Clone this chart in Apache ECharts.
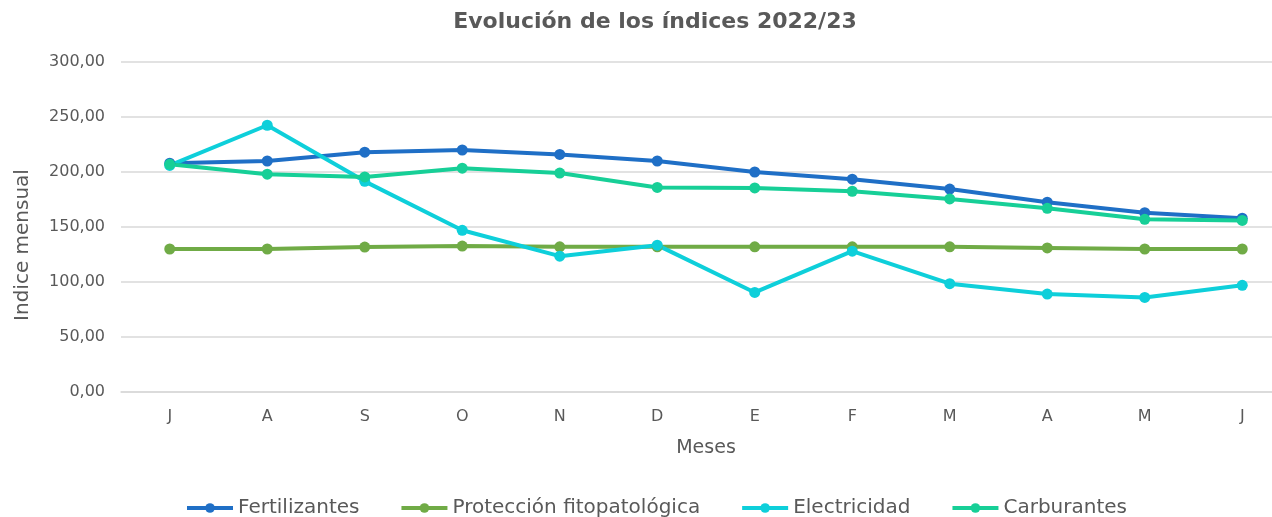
<!DOCTYPE html>
<html>
<head>
<meta charset="utf-8">
<script src="https://cdn.jsdelivr.net/npm/echarts@6/dist/echarts.min.js"></script>
<style>html,body{margin:0;padding:0;background:#fff;overflow:hidden}#c{width:1291px;height:517px}</style>
</head>
<body>
<div id="c"></div>
<script>
const months = ['J','A','S','O','N','D','E','F','M','A','M','J'];
const fertilizantes = [208, 210, 218, 220, 216, 210, 200, 193.5, 184.5, 172.5, 163, 158];
const proteccion = [130, 130, 131.8, 132.7, 132, 132, 132, 132, 132, 131, 130, 130];
const electricidad = [206, 242.5, 191.5, 147, 123.5, 133.5, 90.5, 128, 98.5, 89, 86, 97];
const carburantes = [207, 198, 195.5, 203.5, 199, 186, 185.5, 182.5, 175.5, 167, 157, 156];
const yTicks = [0, 50, 100, 150, 200, 250, 300];

const font = '"DejaVu Sans", sans-serif';
const txt = '#595959';
function mk(name, data, color) {
  return {
    name, type: 'line', data, symbol: 'circle', symbolSize: 11,
    lineStyle: { width: 4, color }, itemStyle: { color }, emphasis: { disabled: true }
  };
}
const chart = echarts.init(document.getElementById('c'));
chart.setOption({
  animation: false,
  title: {
    text: 'Evolución de los índices 2022/23', left: 650, top: 6, textAlign: 'center',
    textStyle: { fontFamily: font, fontSize: 22, fontWeight: 'bold', color: txt }
  },
  legend: {
    top: 493, left: 180, itemGap: 40, itemWidth: 46, itemHeight: 12,
    lineStyle: { width: 4 },
    textStyle: { fontFamily: font, fontSize: 20, color: txt },
    data: ['Fertilizantes', 'Protección fitopatológica', 'Electricidad', 'Carburantes']
  },
  grid: { left: 121, right: 0, top: 62, height: 330 },
  xAxis: {
    type: 'category', data: months, boundaryGap: true,
    name: 'Meses', nameLocation: 'middle', nameGap: 47,
    nameTextStyle: { fontFamily: font, fontSize: 19, color: txt },
    axisLine: { lineStyle: { color: '#d9d9d9', width: 1.5 } }, axisTick: { show: false },
    axisLabel: { fontFamily: font, fontSize: 16, color: txt, margin: 17 }
  },
  yAxis: {
    type: 'value', min: yTicks[0], max: yTicks[yTicks.length - 1], interval: 50,
    name: 'Indice mensual', nameLocation: 'middle', nameGap: 88, nameRotate: 90,
    nameTextStyle: { fontFamily: font, fontSize: 20, color: txt, padding: [0, 0, 0, -36] },
    axisLine: { show: false }, axisTick: { show: false },
    splitLine: { lineStyle: { color: '#d9d9d9', width: 1.5 } },
    axisLabel: { fontFamily: font, fontSize: 16, color: txt, margin: 16,
      formatter: v => v.toFixed(2).replace('.', ',') }
  },
  series: [
    mk('Fertilizantes', fertilizantes, '#1F6FC6'),
    mk('Protección fitopatológica', proteccion, '#70AB46'),
    mk('Electricidad', electricidad, '#0ECFDA'),
    mk('Carburantes', carburantes, '#17CF97')
  ]
});
</script>
</body>
</html>
